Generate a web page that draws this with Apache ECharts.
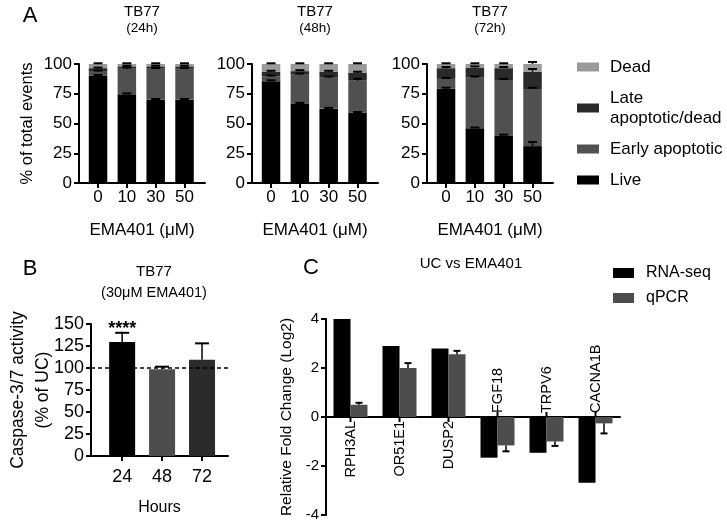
<!DOCTYPE html>
<html><head><meta charset="utf-8">
<script src="https://cdn.jsdelivr.net/npm/echarts@6/dist/echarts.min.js"></script>
<style>html,body{margin:0;padding:0;background:#fff}#c{width:727px;height:522px}</style>
</head><body><div id="c"></div>
<script>
// ---------- Panel A data ----------
const doses = ['0', '10', '30', '50'];
const panelATitles = ['(24h)', '(48h)', '(72h)'];
const segNames = ['Live', 'Early apoptotic', 'Late apoptotic/dead', 'Dead'];
const live24 = [90, 74.5, 70, 70];
const early24 = [3.5, 21.5, 26, 26];
const late24 = [3, 2, 2, 2];
const dead24 = [3.5, 2, 2, 2];
const live48 = [85.5, 66.5, 62.5, 59];
const early48 = [4, 24.5, 26, 27];
const late48 = [4, 3, 5, 6.5];
const dead48 = [6.5, 6, 6.5, 7.5];
const live72 = [79.5, 46, 40, 31];
const early72 = [8, 42.5, 46.5, 48];
const late72 = [9, 8.5, 10, 14.5];
const dead72 = [3.5, 3, 3.5, 6.5];
const errLive24 = [0.8, 0.8, 0.6, 0.6], errEarly24 = [1, 1, 0.6, 0.6], errLate24 = [0.5, 0.5, 0.5, 0.5], errDead24 = [0.6, 0.6, 0.6, 0.6];
const errLive48 = [0.8, 0.8, 0.6, 0.6], errEarly48 = [0.8, 1, 1, 1.5], errLate48 = [0.8, 0.8, 0.8, 1], errDead48 = [0.6, 0.6, 0.6, 0.6];
const errLive72 = [0.6, 0.6, 0.6, 3.5], errEarly72 = [0.8, 1, 1, 1], errLate72 = [1, 1, 1, 2.3], errDead72 = [0.6, 0.6, 0.6, 1.7];

// ---------- Panel B data ----------
const hours = ['24', '48', '72'];
const caspase = [129.5, 98.5, 109.5];
const caspaseErr = [10.5, 3, 18.5];
const caspaseSig = ['****', '', ''];

// ---------- Panel C data ----------
const genes = ['RPH3AL', 'OR51E1', 'DUSP2', 'FGF18', 'TRPV6', 'CACNA1B'];
const rnaSeq = [4.0, 2.9, 2.8, -1.66, -1.46, -2.68];
const qpcr = [0.5, 2.0, 2.56, -1.16, -1.0, -0.26];
const qpcrErr = [0.08, 0.2, 0.14, 0.24, 0.18, 0.41];

const FONT = 'Liberation Sans';
const segColors = ['#000000', '#505050', '#2a2a2a', '#9a9a9a'];

const chartsA = [
  {segs: [live24, early24, late24, dead24], errs: [errLive24, errEarly24, errLate24, errDead24]},
  {segs: [live48, early48, late48, dead48], errs: [errLive48, errEarly48, errLate48, errDead48]},
  {segs: [live72, early72, late72, dead72], errs: [errLive72, errEarly72, errLate72, errDead72]}
];
const gridLeftA = [79, 252, 427];

function tx(extra) { return Object.assign({fontFamily: FONT, color: '#000'}, extra || {}); }

function errRender(halfCap, xOff) {
  return function (params, api) {
    const x = api.value(0), top = api.value(1), e = api.value(2);
    const p0 = api.coord([x, top]);
    const p1 = api.coord([x, top + e]);
    const cx = p0[0] + xOff;
    return {type: 'group', children: [
      {type: 'line', shape: {x1: cx, y1: p0[1], x2: cx, y2: p1[1]}, style: {stroke: '#000', lineWidth: 1.5}},
      {type: 'line', shape: {x1: cx - halfCap, y1: p1[1], x2: cx + halfCap, y2: p1[1]}, style: {stroke: '#000', lineWidth: 2}}
    ]};
  };
}
function barRender(w) {
  return function (params, api) {
    const i = api.value(0), b = api.value(1), t = api.value(2);
    const p0 = api.coord([i, b]), p1 = api.coord([i, t]);
    return {type: 'rect', shape: {x: p0[0] - w / 2, y: p1[1], width: w, height: p0[1] - p1[1]},
      style: {fill: api.visual('color')}};
  };
}

const grid = [], xAxis = [], yAxis = [], series = [], title = [];

title.push({text: 'A', left: 30, top: 5, textAlign: 'center', padding: 0, textStyle: tx({fontSize: 22, fontWeight: 'normal'})});
title.push({text: 'B', left: 30, top: 258, textAlign: 'center', padding: 0, textStyle: tx({fontSize: 22, fontWeight: 'normal'})});
title.push({text: 'C', left: 311, top: 257, textAlign: 'center', padding: 0, textStyle: tx({fontSize: 22, fontWeight: 'normal'})});

chartsA.forEach((c, k) => {
  grid.push({left: gridLeftA[k], top: 64, width: 126, height: 119, outerBoundsMode: 'none'});
  const cx = gridLeftA[k] + 63;
  title.push({text: 'TB77', left: cx, top: 4, textAlign: 'center', padding: 0, textStyle: tx({fontSize: 15, fontWeight: 'normal'})});
  title.push({text: panelATitles[k], left: cx, top: 21, textAlign: 'center', padding: 0, textStyle: tx({fontSize: 13.5, fontWeight: 'normal'})});
  xAxis.push({
    type: 'value', gridIndex: k, min: -0.66, max: 3.71,
    name: 'EMA401 (\u03bcM)', nameLocation: 'middle', nameGap: 39, nameMoveOverlap: false,
    nameTextStyle: tx({fontSize: 17}),
    axisLine: {onZero: false, lineStyle: {color: '#000', width: 2}},
    axisTick: {show: true, customValues: [0, 1, 2, 3], length: 5, lineStyle: {color: '#000', width: 2}},
    axisLabel: {customValues: [0, 1, 2, 3], formatter: v => doses[v], margin: 6, ...tx({fontSize: 17})},
    splitLine: {show: false}
  });
  yAxis.push({
    type: 'value', gridIndex: k, min: 0, max: 100, interval: 25,
    name: k === 0 ? '% of total events' : '', nameLocation: 'middle', nameGap: 43, nameMoveOverlap: false,
    nameTextStyle: tx({fontSize: 16.5}),
    axisLine: {show: true, onZero: false, lineStyle: {color: '#000', width: 2}},
    axisTick: {show: true, length: 5, lineStyle: {color: '#000', width: 2}},
    axisLabel: {margin: 7, ...tx({fontSize: 17})},
    splitLine: {show: false}
  });
  const cum = [0, 0, 0, 0];
  const errData = [];
  c.segs.forEach((arr, s) => {
    const segData = arr.map((v, i) => {
      const base = cum[i];
      cum[i] += v;
      errData.push([i, cum[i], c.errs[s][i]]);
      return [i, base, cum[i]];
    });
    series.push({
      type: 'custom', name: segNames[s], xAxisIndex: k, yAxisIndex: k,
      renderItem: barRender(18.5), encode: {x: 0, y: [1, 2]},
      itemStyle: {color: segColors[s]}, data: segData, animation: false
    });
  });
  series.push({type: 'custom', xAxisIndex: k, yAxisIndex: k, renderItem: errRender(4.5, 0),
    encode: {x: 0, y: 1}, data: errData, z: 10, silent: true, animation: false});
});

// ---------- Panel B ----------
grid.push({left: 91, top: 324, width: 137, height: 132, outerBoundsMode: 'none'});
title.push({text: 'TB77', left: 154, top: 264, textAlign: 'center', padding: 0, textStyle: tx({fontSize: 15, fontWeight: 'normal'})});
title.push({text: '(30\u03bcM EMA401)', left: 154, top: 285, textAlign: 'center', padding: 0, textStyle: tx({fontSize: 14.5, fontWeight: 'normal'})});
xAxis.push({
  type: 'value', gridIndex: 3, min: -0.78, max: 2.65,
  name: 'Hours', nameLocation: 'middle', nameGap: 44, nameMoveOverlap: false, nameTextStyle: tx({fontSize: 16}),
  axisLine: {onZero: false, lineStyle: {color: '#000', width: 2}},
  axisTick: {show: true, customValues: [0, 1, 2], length: 5, lineStyle: {color: '#000', width: 2}},
  axisLabel: {customValues: [0, 1, 2], formatter: v => hours[v], margin: 12, ...tx({fontSize: 18})},
  splitLine: {show: false}
});
yAxis.push({
  type: 'value', gridIndex: 3, min: 0, max: 150, interval: 25,
  name: 'Caspase-3/7 activity\n(% of UC)', nameLocation: 'middle', nameGap: 35, nameMoveOverlap: false,
  nameTextStyle: tx({fontSize: 17.5, lineHeight: 25}),
  axisLine: {show: true, onZero: false, lineStyle: {color: '#000', width: 2}},
  axisTick: {show: true, length: 5, lineStyle: {color: '#000', width: 2}},
  axisLabel: {margin: 7, ...tx({fontSize: 18})},
  splitLine: {show: false}
});
const bColors = ['#000000', '#4d4d4d', '#2b2b2b'];
series.push({
  type: 'bar', name: 'Caspase', xAxisIndex: 3, yAxisIndex: 3, barWidth: 26,
  data: caspase.map((v, i) => ({value: [i, v], itemStyle: {color: bColors[i]}})),
  label: {show: true, position: 'top', distance: 4, formatter: p => caspaseSig[p.dataIndex], ...tx({fontSize: 18, fontWeight: 'bold'})},
  markLine: {silent: true, symbol: 'none', label: {show: false}, animation: false,
    lineStyle: {type: [4, 3], color: '#000', width: 1.5}, data: [{yAxis: 100}]},
  animation: false
});
series.push({type: 'custom', xAxisIndex: 3, yAxisIndex: 3, renderItem: errRender(7, 0),
  encode: {x: 0, y: 1}, data: caspase.map((v, i) => [i, v, caspaseErr[i]]), z: 10, silent: true, animation: false});

// ---------- Panel C ----------
grid.push({left: 326, top: 319, width: 294, height: 196, outerBoundsMode: 'none'});
title.push({text: 'UC vs EMA401', left: 471, top: 256, textAlign: 'center', padding: 0, textStyle: tx({fontSize: 15, fontWeight: 'normal'})});
xAxis.push({
  type: 'category', gridIndex: 4, data: genes,
  axisLine: {onZero: true, lineStyle: {color: '#000', width: 2}},
  axisTick: {show: false},
  axisLabel: {show: false},
  splitLine: {show: false}
});
yAxis.push({
  type: 'value', gridIndex: 4, min: -4, max: 4, interval: 2,
  name: 'Relative Fold Change (Log2)', nameLocation: 'middle', nameGap: 31, nameMoveOverlap: false,
  nameTextStyle: tx({fontSize: 15.5}),
  axisLine: {show: true, onZero: false, lineStyle: {color: '#000', width: 2}},
  axisTick: {show: true, length: 5, lineStyle: {color: '#000', width: 2}},
  axisLabel: {margin: 7, ...tx({fontSize: 15})},
  splitLine: {show: false}
});
series.push({type: 'bar', name: 'RNA-seq', xAxisIndex: 4, yAxisIndex: 4, barWidth: 17, barGap: '0%',
  itemStyle: {color: '#000000'}, data: rnaSeq, animation: false});
series.push({type: 'bar', name: 'qPCR', xAxisIndex: 4, yAxisIndex: 4, barWidth: 17, barGap: '0%',
  itemStyle: {color: '#4d4d4d'}, data: qpcr, animation: false});
series.push({type: 'custom', xAxisIndex: 4, yAxisIndex: 4, renderItem: errRender(3.5, 8.5),
  encode: {x: 0, y: 1}, data: qpcr.map((v, i) => [i, v, v >= 0 ? qpcrErr[i] : -qpcrErr[i]]), z: 10, silent: true, animation: false});
// gene labels + ticks on the zero line, placed on the side opposite the bars
series.push({
  type: 'custom', xAxisIndex: 4, yAxisIndex: 4, encode: {x: 0, y: 1}, z: 12, silent: true, animation: false,
  data: genes.map((g, i) => [i, 0, rnaSeq[i]]),
  renderItem: function (params, api) {
    const p = api.coord([api.value(0), 0]);
    const down = api.value(2) >= 0;
    const dir = down ? 1 : -1;
    return {type: 'group', children: [
      {type: 'line', shape: {x1: p[0], y1: p[1], x2: p[0], y2: p[1] + dir * 5}, style: {stroke: '#000', lineWidth: 2}},
      {type: 'text', x: p[0], y: p[1] + dir * 4, rotation: Math.PI / 2,
        style: {text: genes[params.dataIndex], align: down ? 'right' : 'left', verticalAlign: 'middle',
          fill: '#000', fontFamily: FONT, fontSize: 14.5}}
    ]};
  }
});

const legend = [
  {orient: 'vertical', left: 577, top: 57, padding: 0, itemWidth: 22, itemHeight: 9, itemGap: 11, icon: 'rect',
   selectedMode: false, data: ['Dead', 'Late apoptotic/dead', 'Early apoptotic', 'Live'],
   formatter: n => (n === 'Late apoptotic/dead' ? 'Late\napoptotic/dead' : n),
   textStyle: tx({fontSize: 17, lineHeight: 20, padding: [0, 0, 0, 6]})},
  {orient: 'vertical', left: 613, top: 265, padding: 0, itemWidth: 21, itemHeight: 10, itemGap: 9, icon: 'rect',
   selectedMode: false, data: ['RNA-seq', 'qPCR'],
   textStyle: tx({fontSize: 16, lineHeight: 16, padding: [0, 0, 0, 7]})}
];

const chart = echarts.init(document.getElementById('c'), null, {renderer: 'canvas'});
chart.setOption({animation: false, backgroundColor: '#fff', title, legend, grid, xAxis, yAxis, series});
</script></body></html>
